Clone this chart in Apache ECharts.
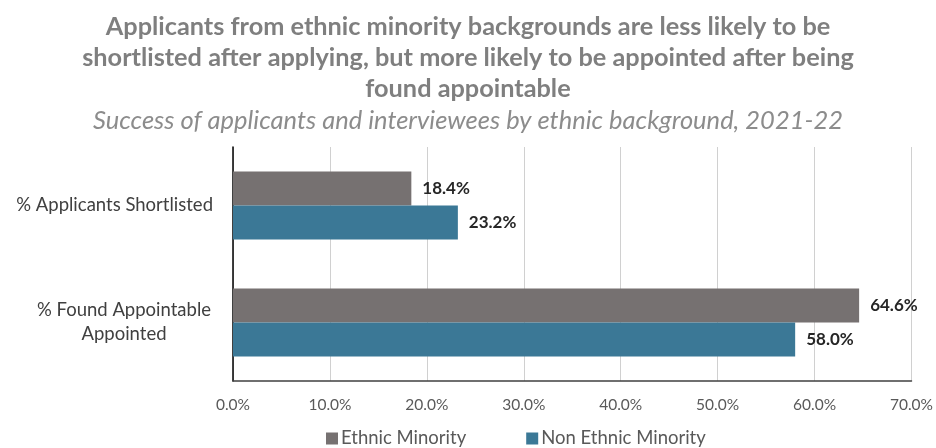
<!DOCTYPE html>
<html><head><meta charset="utf-8">
<script src="https://cdn.jsdelivr.net/npm/echarts@6/dist/echarts.min.js"></script>
<style>html,body{margin:0;padding:0;background:#fff}#c{width:936px;height:448px}</style>
</head><body><div id="c"></div>
<script>
const categories = ['% Applicants Shortlisted', '% Found Appointable\nAppointed'];
const ethnicMinority = [18.4, 64.6];
const nonEthnicMinority = [23.2, 58.0];
const xTicks = [0, 10, 20, 30, 40, 50, 60, 70];
const seriesNames = ['Ethnic Minority', 'Non Ethnic Minority'];

const chart = echarts.init(document.getElementById('c'));
const labelStyle = {
  show: true, position: 'right', distance: 11,
  formatter: p => p.value.toFixed(1) + '%',
  color: '#262626', fontWeight: 'bold', fontSize: 17, fontFamily: 'Lato'
};
chart.setOption({
  animation: false,
  backgroundColor: '#fff',
  title: [{
    text: 'Applicants from ethnic minority backgrounds are less likely to be\nshortlisted after applying, but more likely to be appointed after being\nfound appointable',
    left: 'center', top: 6, padding: [5, 5, 5, 31],
    textStyle: { color: '#7f7f7f', fontSize: 25.3, fontWeight: 'bold', fontFamily: 'Lato', lineHeight: 31, align: 'center' }
  }, {
    text: 'Success of applicants and interviewees by ethnic background, 2021-22',
    left: 'center', top: 103, padding: [5, 5, 5, 13],
    textStyle: { color: '#8c8c8c', fontSize: 25.5, fontWeight: 'normal', fontStyle: 'italic', fontFamily: 'Lato', lineHeight: 26 }
  }],
  legend: {
    top: 424, left: 321, itemGap: 60, itemWidth: 12, itemHeight: 12, icon: 'rect',
    textStyle: { color: '#595959', fontSize: 18.5, fontFamily: 'Lato', padding: [0, 0, 0, -2] },
    data: seriesNames
  },
  grid: { left: 233, right: 23, top: 147, bottom: 67 },
  xAxis: {
    type: 'value', min: xTicks[0], max: xTicks[xTicks.length - 1], interval: 10,
    axisLine: { show: true, lineStyle: { color: '#404040', width: 1.5 } },
    axisTick: { show: false },
    splitLine: { show: true, lineStyle: { color: '#d0d0d0', width: 1 } },
    axisLabel: { formatter: v => v.toFixed(1) + '%', color: '#595959', fontSize: 15.5, fontFamily: 'Lato', margin: 16 }
  },
  yAxis: {
    type: 'category', data: categories, inverse: true,
    axisLine: { show: true, lineStyle: { color: '#000', width: 1.5 } },
    axisTick: { show: false },
    axisLabel: { color: '#404040', fontSize: 18.5, fontFamily: 'Lato', margin: 20, align: 'right',
      formatter: v => v.indexOf('\n') >= 0 ? '{c|' + v + '}' : '{d|' + v + '}',
      rich: {
        c: { width: 178, align: 'center', lineHeight: 24, fontSize: 18.5, color: '#404040', fontFamily: 'Lato' },
        d: { lineHeight: 24, fontSize: 18.5, color: '#404040', fontFamily: 'Lato', padding: [0, 0, 1, 0] }
      } }
  },
  series: [{
    name: seriesNames[0], type: 'bar', data: ethnicMinority, barWidth: 34, barGap: '0%',
    itemStyle: { color: '#767171' }, label: labelStyle
  }, {
    name: seriesNames[1], type: 'bar', data: nonEthnicMinority, barWidth: 34,
    itemStyle: { color: '#3b7896' }, label: labelStyle
  }]
});
</script></body></html>
